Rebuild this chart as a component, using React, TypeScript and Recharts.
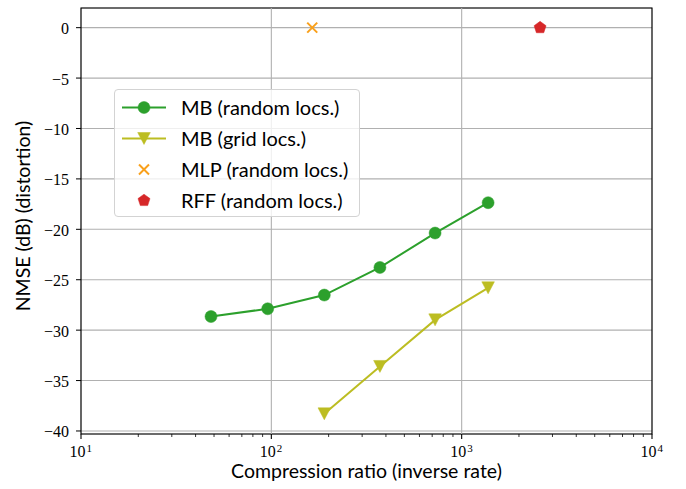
import React from 'react';
import { ComposedChart, Scatter, XAxis, YAxis, CartesianGrid, ReferenceLine, ReferenceArea, Legend } from 'recharts';

const mbRandomX = [48.2, 95.7, 189.8, 372, 725, 1377];
const mbRandomY = [-28.65, -27.88, -26.52, -23.78, -20.37, -17.36];
const mbGridX = [189.8, 372, 725, 1377];
const mbGridY = [-38.3, -33.6, -28.98, -25.8];
const mlpX = [164];
const mlpY = [0];
const rffX = [2582];
const rffY = [0];

const seriesNames = ['MB (random locs.)', 'MB (grid locs.)', 'MLP (random locs.)', 'RFF (random locs.)'];
const xMajorTicks = [10, 100, 1000, 10000];
const xMinorMultipliers = [2, 3, 4, 5, 6, 7, 8, 9];
const yTicks = [-40, -35, -30, -25, -20, -15, -10, -5, 0];
const xDomain = [10, 10000];
const yDomain = [-40.3, 1.95];

const GREEN = '#2ca02c';
const OLIVE = '#bcbd22';
const ORANGE = '#f9a01b';
const RED = '#d62728';

const toPoints = (xs: number[], ys: number[]) => xs.map((x, i) => ({ x, y: ys[i] }));
const mbRandom = toPoints(mbRandomX, mbRandomY);
const mbGrid = toPoints(mbGridX, mbGridY);
const mlp = toPoints(mlpX, mlpY);
const rff = toPoints(rffX, rffY);

const allXTicks: number[] = [];
xMajorTicks.forEach((m, i) => {
  allXTicks.push(m);
  if (i < xMajorTicks.length - 1) xMinorMultipliers.forEach((k) => allXTicks.push(m * k));
});

const SANS = 'Lato, "Open Sans", sans-serif';
const SERIF = '"Liberation Serif", "DejaVu Serif", serif';

function Marker({ kind, cx, cy, color }: { kind: string; cx: number; cy: number; color: string }) {
  if (kind === 'circle') return <circle cx={cx} cy={cy} r={6} fill={color} stroke={color} strokeWidth={0.5} />;
  if (kind === 'tri') {
    return <polygon points={`${cx - 6.3},${cy - 6} ${cx + 6.3},${cy - 6} ${cx},${cy + 6}`} fill={color} stroke={color} strokeWidth={0.5} />;
  }
  if (kind === 'x') {
    return (
      <g stroke={color} strokeWidth={2}>
        <line x1={cx - 5} y1={cy - 5} x2={cx + 5} y2={cy + 5} />
        <line x1={cx - 5} y1={cy + 5} x2={cx + 5} y2={cy - 5} />
      </g>
    );
  }
  const r = 6.3;
  const pts = [0, 1, 2, 3, 4].map((i) => {
    const a = -Math.PI / 2 + (i * 2 * Math.PI) / 5;
    return `${cx + r * Math.cos(a)},${cy + r * Math.sin(a)}`;
  });
  return <polygon points={pts.join(' ')} fill={color} stroke={color} strokeWidth={0.5} />;
}

const seriesKinds: Record<string, { kind: string; color: string; line: boolean }> = {
  [seriesNames[0]]: { kind: 'circle', color: GREEN, line: true },
  [seriesNames[1]]: { kind: 'tri', color: OLIVE, line: true },
  [seriesNames[2]]: { kind: 'x', color: ORANGE, line: false },
  [seriesNames[3]]: { kind: 'pent', color: RED, line: false },
};

const XTick = (props: any) => {
  const { x, y, payload } = props;
  const v = payload.value;
  const exp = Math.round(Math.log10(v));
  const isMajor = Math.abs(Math.pow(10, exp) - v) < 1e-6;
  return (
    <g>
      <line x1={x} x2={x} y1={y} y2={y + (isMajor ? 5 : 3)} stroke="#000" strokeWidth={isMajor ? 1.1 : 0.8} />
      {isMajor && (
        <text x={x - 3.5} y={y + 22.5} textAnchor="middle" fontFamily={SERIF} fontSize={16} fill="#000">
          {'10'}
        </text>
      )}
      {isMajor && (
        <text x={x + 5.5} y={y + 17.5} textAnchor="start" fontFamily={SERIF} fontSize={11} fill="#000">
          {String(exp)}
        </text>
      )}
    </g>
  );
};

const YTick = (props: any) => {
  const { x, y, payload } = props;
  const v = payload.value;
  const label = v < 0 ? `\u2212${Math.abs(v)}` : `${v}`;
  return (
    <text x={x} y={y + 6.5} textAnchor="end" fontFamily={SERIF} fontSize={16} fill="#000">
      {label}
    </text>
  );
};

const LegendContent = (props: any) => {
  const payload = props.payload || [];
  const ordered = seriesNames.map((n) => payload.find((e: any) => e.value === n)).filter(Boolean);
  return (
    <div
      style={{
        width: 246,
        height: 128,
        boxSizing: 'border-box',
        border: '1px solid #d3d3d3',
        borderRadius: 4,
        background: 'rgba(255,255,255,0.8)',
        paddingTop: 2,
      }}
    >
      {ordered.map((entry: any) => {
        const cfg = seriesKinds[entry.value];
        return (
          <div key={entry.value} style={{ display: 'flex', alignItems: 'center', height: 31 }}>
            <svg width={66} height={31} style={{ display: 'block' }}>
              {cfg.line && <line x1={7} x2={51} y1={15.5} y2={15.5} stroke={cfg.color} strokeWidth={2} />}
              <Marker kind={cfg.kind} cx={29} cy={15.5} color={cfg.color} />
            </svg>
            <span style={{ fontFamily: SANS, fontSize: 20, color: '#000', lineHeight: '31px', whiteSpace: 'nowrap' }}>{entry.value}</span>
          </div>
        );
      })}
    </div>
  );
};

const mkShape = (name: string) => (p: any) => {
  const cfg = seriesKinds[name];
  return <Marker kind={cfg.kind} cx={p.cx} cy={p.cy} color={cfg.color} />;
};

export default function App() {
  return (
    <div style={{ position: 'absolute', left: 0, top: 0, width: 686, height: 489, background: '#fff' }}>
      <ComposedChart width={686} height={489} margin={{ top: 8, right: 34, left: 0, bottom: 0 }}>
        <CartesianGrid vertical={false} stroke="#b0b0b0" strokeWidth={1.1} />
        <XAxis
          dataKey="x"
          type="number"
          scale="log"
          domain={xDomain}
          ticks={allXTicks}
          interval={0}
          allowDataOverflow
          axisLine={false}
          tickLine={false}
          tickSize={0}
          tickMargin={0}
          height={55}
          tick={<XTick />}
          label={{
            content: (lp: any) => {
              const vb = lp.viewBox || {};
              return (
                <text x={vb.x + vb.width / 2} y={vb.y + 44} textAnchor="middle" fontFamily={SANS} fontSize={19.5} fill="#000">
                  Compression ratio (inverse rate)
                </text>
              );
            },
          }}
        />
        <YAxis
          dataKey="y"
          type="number"
          domain={yDomain}
          ticks={yTicks}
          interval={0}
          allowDataOverflow
          width={81}
          axisLine={false}
          tickSize={5}
          tickMargin={7}
          stroke="#000"
          tick={<YTick />}
          label={{
            content: (lp: any) => {
              const vb = lp.viewBox || {};
              const cy = vb.y + vb.height / 2 - 5;
              return (
                <text x={30} y={cy} transform={`rotate(-90, 30, ${cy})`} textAnchor="middle" fontFamily={SANS} fontSize={19.5} fill="#000">
                  NMSE (dB) (distortion)
                </text>
              );
            },
          }}
        />
        <ReferenceLine x={100} stroke="#b0b0b0" strokeWidth={1.1} />
        <ReferenceLine x={1000} stroke="#b0b0b0" strokeWidth={1.1} />
        <ReferenceArea x1={xDomain[0]} x2={xDomain[1]} y1={yDomain[0]} y2={yDomain[1]} fill="none" fillOpacity={0} stroke="#000" strokeWidth={1.2} ifOverflow="visible" />
        <Legend
          layout="vertical"
          align="center"
          verticalAlign="middle"
          content={<LegendContent />}
          wrapperStyle={{ position: 'absolute', left: 114, top: 89, width: 246, height: 128 }}
        />
        <Scatter name={seriesNames[0]} data={mbRandom} fill={GREEN} line={{ stroke: GREEN, strokeWidth: 2 }} lineType="joint" shape={mkShape(seriesNames[0])} isAnimationActive={false} />
        <Scatter name={seriesNames[1]} data={mbGrid} fill={OLIVE} line={{ stroke: OLIVE, strokeWidth: 2 }} lineType="joint" shape={mkShape(seriesNames[1])} isAnimationActive={false} />
        <Scatter name={seriesNames[2]} data={mlp} fill={ORANGE} shape={mkShape(seriesNames[2])} isAnimationActive={false} />
        <Scatter name={seriesNames[3]} data={rff} fill={RED} shape={mkShape(seriesNames[3])} isAnimationActive={false} />
      </ComposedChart>
    </div>
  );
}
